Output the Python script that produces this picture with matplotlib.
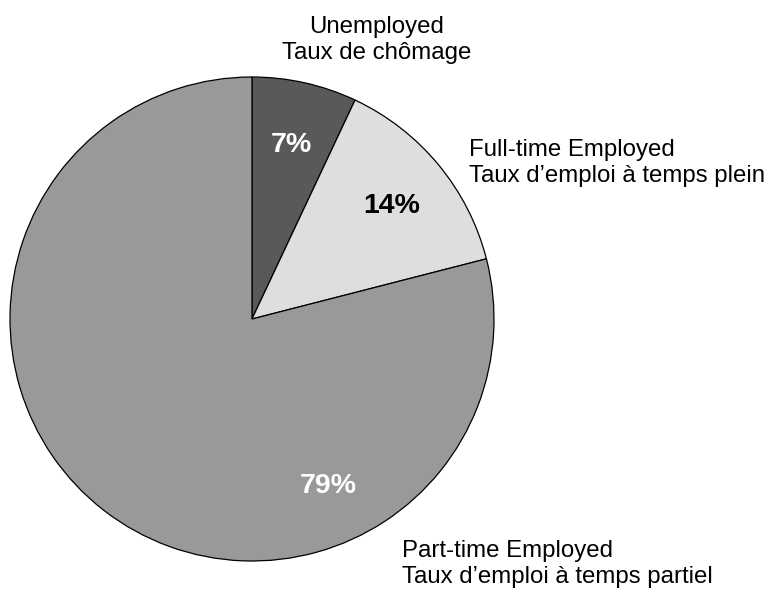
import matplotlib
matplotlib.use("Agg")
import matplotlib.pyplot as plt

plt.rcParams['font.family'] = ['Liberation Sans', 'DejaVu Sans']

categories = ["Unemployed\nTaux de chômage",
              "Full-time Employed\nTaux d\u2019emploi à temps plein",
              "Part-time Employed\nTaux d\u2019emploi à temps partiel"]
values = [7, 14, 79]
colors = ["#595959", "#dedede", "#999999"]
pct_colors = ["white", "black", "white"]

W, H = 768, 598
fig = plt.figure(figsize=(W / 100, H / 100), dpi=100)

# pie centre (252, 319) px, radius 242 px
cx, cy, r = 252, 319, 242
ax = fig.add_axes([(cx - r) / W, (H - cy - r) / H, 2 * r / W, 2 * r / H])

wedges, texts, autotexts = ax.pie(
    values, colors=colors, startangle=90, counterclock=False,
    autopct=lambda p: f"{p:.0f}%", pctdistance=0.75,
    wedgeprops=dict(edgecolor="black", linewidth=0.9),
    textprops=dict(fontsize=20.5, fontweight="bold"))
ax.set_xlim(-1, 1)
ax.set_ylim(-1, 1)
ax.set_aspect("equal")
ax.axis("off")

for t, c in zip(autotexts, pct_colors):
    t.set_color(c)
    x, y = t.get_position()
    t.set_position((x, y - 3 / r))
# big slice label sits lower right, not at the wedge middle
autotexts[2].set_position(((328 - cx) / r, (cy - 486) / r))

# category labels
lab = dict(fontsize=17.3, linespacing=1.22)
fig.text(377 / W, 1 - 40 / H, categories[0], ha="center", va="center",
         multialignment="center", **lab)
fig.text(469 / W, 1 - 163 / H, categories[1], ha="left", va="center", **lab)
fig.text(402 / W, 1 - 564 / H, categories[2], ha="left", va="center", **lab)

fig.savefig("out.png", dpi=100)
